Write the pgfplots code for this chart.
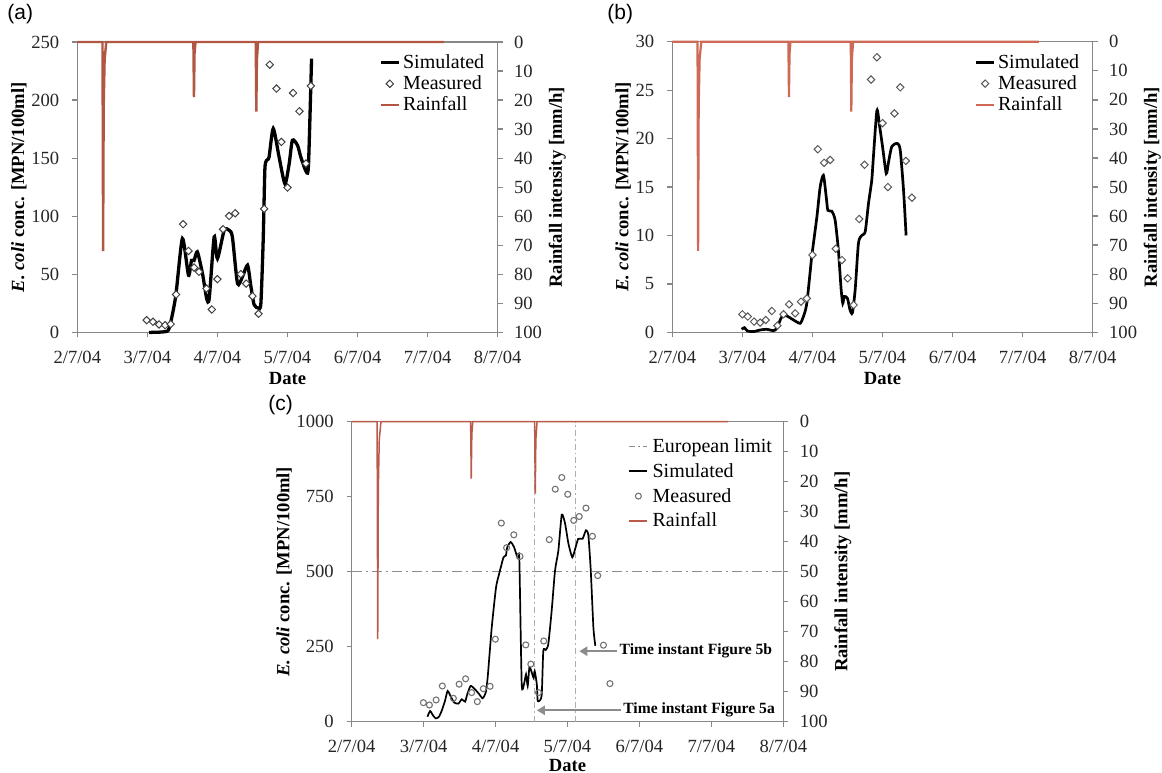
\documentclass[border=0pt]{standalone}
\usepackage{fontspec}
\setmainfont{Liberation Serif}
\newfontfamily\sansf{Liberation Sans}
\usepackage{pgfplots}
\pgfplotsset{compat=1.18}
\usetikzlibrary{arrows.meta}

\definecolor{axgray}{RGB}{135,135,135}
\definecolor{rainA}{RGB}{178,86,68}
\definecolor{rainB}{RGB}{205,105,85}
\definecolor{rainC}{RGB}{185,90,75}
\definecolor{limgray}{RGB}{140,140,140}

\pgfplotsset{
  base/.style={
    scale only axis, anchor=south west,
    xmin=0, xmax=180, clip=false,
    tick align=outside, major tick length=2.5bp,
    tick style={axgray, line width=0.65bp},
    ticklabel style={font=\fontsize{9.3bp}{10bp}\selectfont, text=black!85},
    /pgf/number format/assume math mode=true,
    /pgf/number format/1000 sep={},
    label style={font=\bfseries\fontsize{9.3bp}{10bp}\selectfont},
  },
  conc/.style={base,
    xtick={0,30,...,180},
    xticklabels={2/7/04,3/7/04,4/7/04,5/7/04,6/7/04,7/7/04,8/7/04},
    xtick pos=bottom, ytick pos=left,
    axis line style={axgray, line width=0.65bp},
    xticklabel style={yshift=-3.4bp},
    yticklabel style={xshift=-3bp},
    xlabel={Date}, xlabel shift=-2.5bp,
    ylabel={\textit{E. coli} conc. [MPN/100ml]}, ylabel shift=-4.5bp,
  },
  rain/.style={base,
    ymin=0, ymax=100, y dir=reverse,
    xtick=\empty, ytick={0,10,...,100},
    ytick pos=right, yticklabel pos=right,
    axis line style={draw=none},
    yticklabel style={xshift=2.2bp},
    ylabel={Rainfall intensity [mm/h]}, ylabel shift=-3.5bp,
    legend cell align=left,
    legend style={draw=none, fill=none, inner sep=0pt, anchor=north east,
      font=\fontsize{10bp}{11bp}\selectfont,
      nodes={text height=7bp, text depth=1bp, inner sep=1.3bp}},
    legend image code/.code={\draw[mark repeat=2,mark phase=2,##1] plot coordinates {(0bp,0bp) (4.5bp,0bp) (9bp,0bp)};},
  },
  dmdA/.style={only marks, mark=square*, mark size=1.3bp,
    mark options={rotate=45, fill=white, draw=black!75, line width=0.5bp}},
  dmdB/.style={only marks, mark=square*, mark size=1.3bp,
    mark options={rotate=45, fill=white, draw=black!65, line width=0.5bp}},
}

\begin{document}
\begin{tikzpicture}
\useasboundingbox (0,0) rectangle (581bp,386.5bp);

% ---------- (a)
\begin{axis}[conc, at={(38.65bp,220.25bp)}, width=210.2bp, height=145.25bp,
  ymin=0, ymax=250, ytick={0,50,...,250}]
\addplot[black, line width=1.65bp, smooth, tension=0.4] coordinates {
(30.7,0) (33,0.2) (37.1,0.6) (39.3,3.4) (42.1,30.7) (45,80.8) (47.6,49.3) (48.9,62)
(50,62) (51.4,69.4) (53.6,50.7) (55.4,29.2) (56.5,29.5) (58.6,82.3) (60,63.6) (62.9,88)
(65,88) (66.4,82.3) (68.6,42.1) (70.7,47.9) (72.9,57.9) (74.3,40) (75.7,24) (77.5,21)
(78.6,25) (79.6,80) (80.3,140) (81,148) (82.1,151) (83.9,175.5) (86.4,151) (88.9,128)
(90.7,145) (92.1,165.4) (94.3,161) (95.7,151) (98.1,138) (99,145) (100.3,235.7)};
\addplot[dmdA] coordinates {
(29.7,10.6) (32.4,9.2) (35,6.9) (37.6,6.3) (40,7.2) (42.3,32.7) (45.3,93.2) (47.6,70.2)
(50,55.9) (52.1,52.2) (55.3,37.8) (57.6,19.8) (60,45.9) (62.4,88.9) (65,100.3) (67.6,102.6)
(70,50.2) (72.3,42.1) (75,31.3) (77.6,16.1) (80,106.4) (82.4,230.5) (85.3,209.9) (87.4,164)
(90,124.7) (92.4,206.1) (95.1,190.4) (97.9,145.4) (100,212.2)};
\end{axis}
\begin{axis}[rain, at={(38.65bp,220.25bp)}, width=210.2bp, height=145.25bp,
  legend style={at={(0.975,0.967)}}]
\addlegendimage{black, line width=1.65bp}
\addlegendentry{Simulated}
\addlegendimage{dmdA}
\addlegendentry{Measured}
\addplot[rainA, line width=1.2bp] coordinates {
(0,0) (10.8,0) (11.05,72) (11.3,22) (11.7,6) (12.4,0) (49.7,0) (49.95,19) (50.2,4) (50.6,0)
(76.4,0) (76.65,24) (76.9,6) (77.4,0) (157,0)};
\addlegendentry{Rainfall}
\end{axis}

% ---------- (b)
\begin{axis}[conc, at={(336.15bp,220.35bp)}, width=210.2bp, height=145.25bp,
  ymin=0, ymax=30, ytick={0,5,...,30}]
\addplot[black, line width=1.35bp, smooth, tension=0.4] coordinates {
(29.7,0.31) (30.9,0.48) (32.1,0.14) (34.7,0.07) (37.6,0.24) (40.4,0.31) (43.3,0.17)
(44.7,0.41) (46.9,1.6) (49,1.69) (51.9,1.27) (54.7,0.93) (56.1,1.6) (57.6,3.0) (59.7,7.8)
(61.9,11.9) (63.3,15.0) (64.7,16.2) (65.9,14.0) (66.6,12.6) (68.3,12.5) (69.7,11.6)
(71.1,8.5) (72.3,4.4) (73,3.0) (73.6,3.7) (75,3.5) (76.1,2.3) (77.1,2.0) (78.3,4.4)
(79.7,9.2) (81.1,10.0) (82.6,10.4) (84,13.3) (85.4,15.7) (86.1,18.1) (87.6,22.9)
(88.7,21.4) (90,19.2) (91.6,16.4) (92.6,17.6) (94,19.2) (96.4,19.5) (97.6,18.8)
(99,14.7) (100.1,10.0)};
\addplot[dmdB] coordinates {
(30,1.86) (32.3,1.62) (35,1.1) (37.6,1.0) (40,1.27) (42.6,2.2) (45,0.69) (47.6,1.86)
(50,2.89) (52.6,1.96) (55.1,3.16) (57.6,3.5) (60,7.98) (62.3,18.9) (65,17.5) (67.6,17.8)
(70,8.63) (72.6,7.46) (75.1,5.57) (77.6,2.82) (80,11.7) (82.3,17.3) (85.1,26.1) (87.6,28.4)
(90,21.6) (92.3,15.0) (95.1,22.6) (97.6,25.3) (100,17.7) (102.6,13.9)};
\end{axis}
\begin{axis}[rain, at={(336.15bp,220.35bp)}, width=210.2bp, height=145.25bp,
  legend style={at={(0.975,0.967)}}]
\addlegendimage{black, line width=1.35bp}
\addlegendentry{Simulated}
\addlegendimage{dmdB}
\addlegendentry{Measured}
\addplot[rainB, line width=1.1bp] coordinates {
(0,0) (10.8,0) (11.05,72) (11.3,22) (11.7,6) (12.4,0) (49.7,0) (49.95,19) (50.2,4) (50.6,0)
(76.4,0) (76.65,24) (76.9,6) (77.4,0) (157,0)};
\addlegendentry{Rainfall}
\end{axis}

% ---------- (c)
\begin{axis}[conc, at={(175.85bp,25.65bp)}, width=215.8bp, height=150bp,
  ymin=0, ymax=1000, ytick={0,250,...,1000}, xlabel shift=-3.5bp]
\addplot[limgray, line width=0.8bp, dash pattern=on 5bp off 2bp on 1bp off 2bp] coordinates {(0,500) (180,500)};
\addplot[limgray!70, line width=0.5bp, dash pattern=on 3bp off 1.5bp on 0.8bp off 1.5bp] coordinates {(76.3,0) (76.3,1000)};
\addplot[limgray!70, line width=0.5bp, dash pattern=on 3bp off 1.5bp on 0.8bp off 1.5bp] coordinates {(93.5,0) (93.5,1000)};
\addplot[black, line width=0.85bp, smooth, tension=0.35] coordinates {
(31.6,16.7) (32.7,35.7) (33.8,22.3) (35,11.1) (36.3,15.6) (37.5,35.7) (38.9,69.1)
(40.0,102.6) (41.4,82.5) (42.8,63.5) (44.5,60.2) (45.9,74.7) (47.3,66.9) (48.2,91.4)
(49.6,119.3) (51.4,108.1) (53.2,91.4) (54.6,78) (55.9,97) (56.7,147) (58.4,314) (60.2,448)
(61.5,493) (63.3,548) (64.3,554) (64.9,582) (66.3,599) (67.7,582) (69.1,548) (69.9,543)
(70.9,125) (71.9,127) (72.7,158) (73.4,119) (74.1,181) (74.9,169) (75.8,147) (76.3,169)
(77.2,125) (77.6,69) (79.2,86) (79.9,236) (80.9,239) (82,259) (83.4,370) (84.8,504)
(86.2,571) (87.6,690) (89,660) (90.4,593) (92,548) (93.4,582) (94.5,610) (96.3,610)
(97.7,638) (98.7,621) (99.7,504) (100.8,314) (101.6,253)};
\addplot[only marks, mark=o, mark size=1.5bp,
  mark options={fill=white, draw=black!55, line width=0.55bp}] coordinates {
(29.9,63.5) (32.4,55.7) (35.2,72.5) (37.8,119) (42.4,78) (44.8,125) (47.5,143) (50,97)
(52.4,66.9) (54.9,110) (57.7,118) (59.9,275) (62.4,662) (64.6,580) (67.6,623) (70.2,551)
(72.6,256) (74.7,192) (77.9,97) (80.1,269) (82.4,607) (84.9,775) (87.6,814) (90.1,758)
(92.6,671) (94.9,684) (97.7,712) (100.4,618) (102.6,487) (105,255) (107.7,127)};
\draw[-{Triangle[length=4bp,width=4.5bp]}, black!45, line width=1.2bp]
  (axis cs:110.8,235) -- (axis cs:94.9,235);
\node[anchor=west, inner sep=0pt, font=\bfseries\fontsize{7.8bp}{9bp}\selectfont]
  at (axis cs:111.6,235) {Time instant Figure 5b};
\draw[-{Triangle[length=4bp,width=4.5bp]}, black!45, line width=1.2bp]
  (axis cs:112.4,38) -- (axis cs:77.2,38);
\node[anchor=west, inner sep=0pt, font=\bfseries\fontsize{7.8bp}{9bp}\selectfont]
  at (axis cs:113.1,38) {Time instant Figure 5a};
\end{axis}
\begin{axis}[rain, at={(175.85bp,25.65bp)}, width=215.8bp, height=150bp,
  legend style={at={(0.985,0.96)}, nodes={text height=7bp, text depth=1bp, inner sep=2.2bp}}]
\addlegendimage{limgray, line width=0.8bp, dash pattern=on 3bp off 1.5bp on 1bp off 1.5bp}
\addlegendentry{European limit}
\addlegendimage{black, line width=0.85bp}
\addlegendentry{Simulated}
\addlegendimage{only marks, mark=o, mark size=1.5bp, mark options={fill=white, draw=black!55, line width=0.55bp}}
\addlegendentry{Measured}
\addplot[rainC, line width=0.75bp] coordinates {
(0,0) (10.6,0) (10.85,72.5) (11.1,22) (11.5,6) (12.2,0) (49.6,0) (49.85,19) (50.1,4) (50.5,0)
(76.3,0) (76.55,24) (76.8,6) (77.3,0) (157,0)};
\addlegendentry{Rainfall}
\end{axis}

\node[anchor=west, inner sep=0pt, font=\sansf\fontsize{10.5bp}{12bp}\selectfont] at (3.5bp,379.5bp) {(a)};
\node[anchor=west, inner sep=0pt, font=\sansf\fontsize{10.5bp}{12bp}\selectfont] at (303.5bp,379.5bp) {(b)};
\node[anchor=west, inner sep=0pt, font=\sansf\fontsize{10.5bp}{12bp}\selectfont] at (134bp,184bp) {(c)};
\end{tikzpicture}
\end{document}
